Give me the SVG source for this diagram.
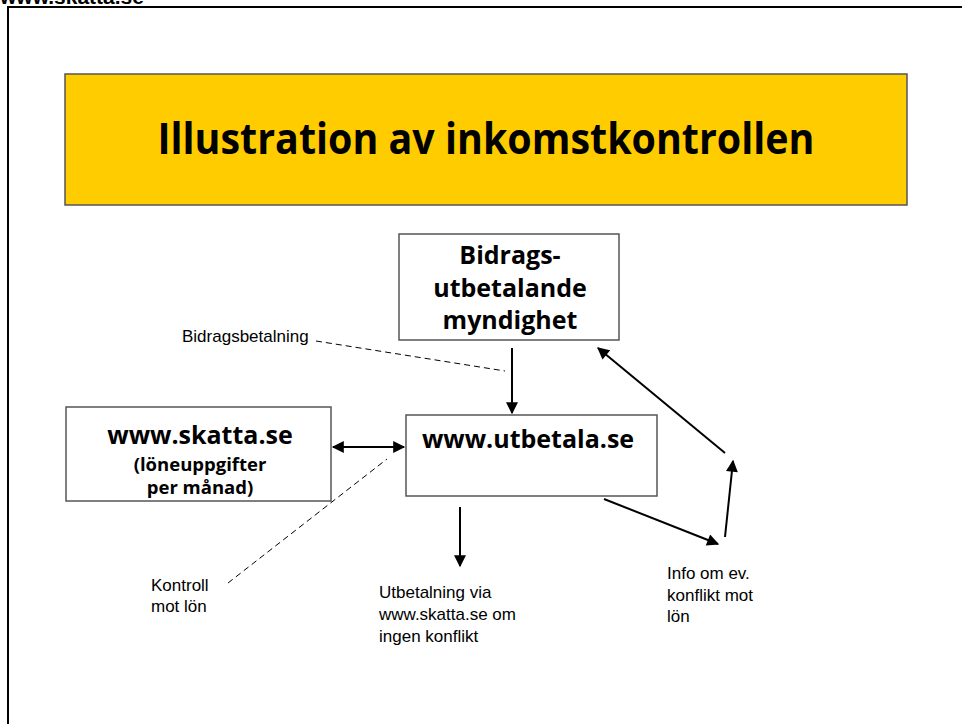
<svg xmlns="http://www.w3.org/2000/svg" width="962" height="724" viewBox="0 0 962 724">
<style>
.box{fill:#fff;stroke:#555;stroke-width:1.5}
.hb{font-family:"Open Sans","Noto Sans",sans-serif;font-weight:bold;fill:#000;text-anchor:middle}
.lab{font-family:"Liberation Sans",Arial,sans-serif;font-size:17px;fill:#000}
.ar{stroke:#000;stroke-width:2;fill:none}
.dash{stroke:#000;stroke-width:1;fill:none;stroke-dasharray:6,4}
</style>
<defs>
<marker id="ah2" viewBox="0 0 10 10" refX="9" refY="5" markerWidth="14" markerHeight="12" markerUnits="userSpaceOnUse" orient="auto-start-reverse">
<path d="M0,0 L10,5 L0,10 Z" fill="#000"/>
</marker>
</defs>
<rect width="962" height="724" fill="#fff"/>
<text x="0" y="4" font-family="Liberation Sans,Arial,sans-serif" font-weight="bold" font-size="21">www.skatta.se</text>
<path d="M8,724 V7 H962" stroke="#000" stroke-width="2" fill="none"/>
<g id="title">
<rect x="65" y="74" width="842" height="131" fill="#FFCC00" stroke="#555" stroke-width="1.5"/>
<text class="hb" x="486" y="154" font-size="43" textLength="657" lengthAdjust="spacingAndGlyphs">Illustration av inkomstkontrollen</text>
</g>
<g id="bidrag">
<rect class="box" x="399" y="234" width="220" height="106"/>
<text class="hb" x="510" y="264" font-size="25">Bidrags-</text>
<text class="hb" x="510" y="297" font-size="25">utbetalande</text>
<text class="hb" x="510" y="329" font-size="25">myndighet</text>
</g>
<g id="skatta">
<rect class="box" x="66" y="407" width="265" height="94"/>
<text class="hb" x="200" y="444" font-size="25">www.skatta.se</text>
<text class="hb" x="200" y="471" font-size="18.5">(löneuppgifter</text>
<text class="hb" x="200" y="494" font-size="18.5">per månad)</text>
</g>
<g id="utbetala">
<rect class="box" x="406" y="415" width="251" height="81"/>
<text class="hb" x="528" y="448" font-size="25">www.utbetala.se</text>
</g>
<g id="labels">
<text class="lab" x="182" y="342">Bidragsbetalning</text>
<text class="lab" x="151" y="591">Kontroll</text>
<text class="lab" x="151" y="612">mot lön</text>
<text class="lab" x="379" y="598">Utbetalning via</text>
<text class="lab" x="379" y="620">www.skatta.se om</text>
<text class="lab" x="379" y="642">ingen konflikt</text>
<text class="lab" x="667" y="579">Info om ev.</text>
<text class="lab" x="667" y="601">konflikt mot</text>
<text class="lab" x="667" y="622">lön</text>
</g>
<g id="connectors">
<line class="ar" x1="333" y1="447" x2="404" y2="447" marker-start="url(#ah2)" marker-end="url(#ah2)"/>
<line class="ar" x1="512" y1="348" x2="512" y2="413" marker-end="url(#ah2)"/>
<line class="ar" x1="460" y1="507" x2="460" y2="566" marker-end="url(#ah2)"/>
<line class="ar" x1="604" y1="499" x2="718" y2="544" marker-end="url(#ah2)"/>
<line class="ar" x1="725" y1="537" x2="733" y2="461" marker-end="url(#ah2)"/>
<line class="ar" x1="725" y1="453" x2="598" y2="348" marker-end="url(#ah2)"/>
<line class="dash" x1="316" y1="341" x2="505" y2="371"/>
<line class="dash" x1="228" y1="583" x2="387" y2="459"/>
</g>
</svg>
